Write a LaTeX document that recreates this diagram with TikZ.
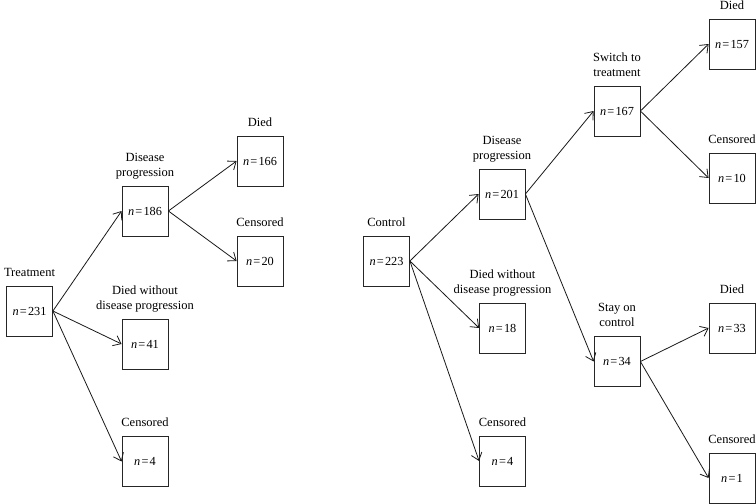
\documentclass[tikz,border=0pt]{standalone}
\usepackage{fontspec}
\setmainfont{Liberation Serif}
\usetikzlibrary{arrows.meta,positioning}
\newcommand{\nn}[1]{\textit{n}\kern1.2pt=\kern1.2pt#1}
\begin{document}
\begin{tikzpicture}[x=1pt,y=-1pt,
  box/.style={draw=black!85,line width=0.8pt,minimum width=46pt,minimum height=50pt,inner sep=0pt,font=\fontsize{12.3}{14}\selectfont},
  lab/.style={align=center,inner sep=0pt,text depth=0pt,font=\fontsize{12.5}{15}\selectfont},
  arr/.style={draw=black!90,line width=0.8pt,-{Straight Barb[length=7pt,width=11pt]}}]
\useasboundingbox (0,0) rectangle (756,504);
% left tree
\node[box] (T)   at (29.5,311) {\nn{231}};
\node[box] (DP1) at (145,211) {\nn{186}};
\node[box] (DW1) at (145,344) {\nn{41}};
\node[box] (C1)  at (145,461.5) {\nn{4}};
\node[box] (D1)  at (260,161) {\nn{166}};
\node[box] (CS1) at (260,261) {\nn{20}};
% right tree
\node[box] (Ct)  at (386.5,261) {\nn{223}};
\node[box] (DP2) at (502,194) {\nn{201}};
\node[box] (DW2) at (502.5,328) {\nn{18}};
\node[box] (C2)  at (502.5,461) {\nn{4}};
\node[box] (SW)  at (617,111) {\nn{167}};
\node[box] (SC)  at (617,361.5) {\nn{34}};
\node[box] (D2)  at (732,44) {\nn{157}};
\node[box] (CS2) at (732,178) {\nn{10}};
\node[box] (D3)  at (732,328) {\nn{33}};
\node[box] (CS3) at (732,478) {\nn{1}};
% labels
\node[lab,above=9pt of T] (lT) {Treatment};
\node[lab,above=9pt of DP1] (lDP1) {Disease\\progression};
\node[lab,above=9pt of DW1] (lDW1) {Died without\\disease progression};
\node[lab,above=9pt of C1] (lC1) {Censored};
\node[lab,above=9pt of D1] (lD1) {Died};
\node[lab,above=9pt of CS1] (lCS1) {Censored};
\node[lab,above=9pt of Ct] (lCt) {Control};
\node[lab,above=9pt of DP2] (lDP2) {Disease\\progression};
\node[lab,above=9pt of DW2] (lDW2) {Died without\\disease progression};
\node[lab,above=9pt of C2] (lC2) {Censored};
\node[lab,above=9pt of SW] (lSW) {Switch to\\treatment};
\node[lab,above=9pt of SC] (lSC) {Stay on\\control};
\node[lab,above=9pt of D2] (lD2) {Died};
\node[lab,above=9pt of CS2] (lCS2) {Censored};
\node[lab,above=9pt of D3] (lD3) {Died};
\node[lab,above=9pt of CS3] (lCS3) {Censored};
% connectors
\draw[arr] (T.east) -- (DP1.west);
\draw[arr] (T.east) -- (DW1.west);
\draw[arr] (T.east) -- (C1.west);
\draw[arr] (DP1.east) -- (D1.west);
\draw[arr] (DP1.east) -- (CS1.west);
\draw[arr] (Ct.east) -- (DP2.west);
\draw[arr] (Ct.east) -- (DW2.west);
\draw[arr] (Ct.east) -- (C2.west);
\draw[arr] (DP2.east) -- (SW.west);
\draw[arr] (DP2.east) -- (SC.west);
\draw[arr] (SW.east) -- (D2.west);
\draw[arr] (SW.east) -- (CS2.west);
\draw[arr] (SC.east) -- (D3.west);
\draw[arr] (SC.east) -- (CS3.west);
\end{tikzpicture}
\end{document}
